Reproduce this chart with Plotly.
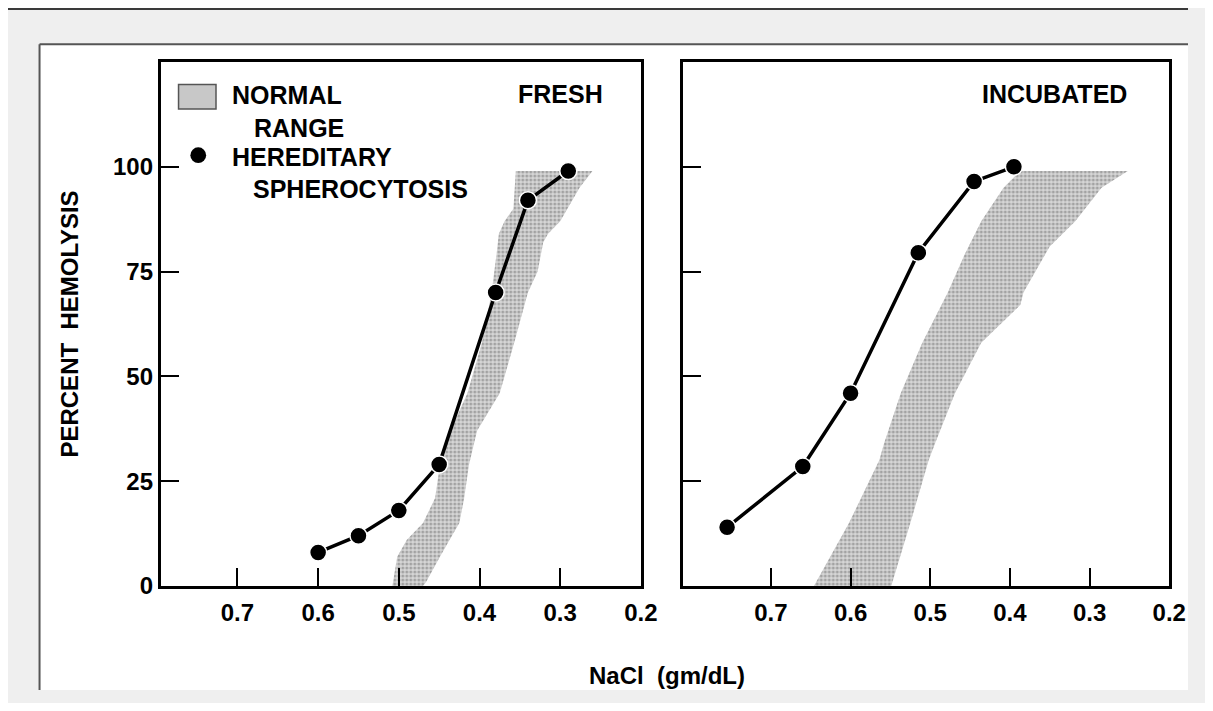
import plotly.graph_objects as go

# ---------------- data ----------------
fresh_nacl = [0.60, 0.55, 0.50, 0.45, 0.38, 0.34, 0.29]
fresh_hemolysis = [8, 12, 18, 29, 70, 92, 99]

incub_nacl = [0.755, 0.66, 0.60, 0.515, 0.445, 0.395]
incub_hemolysis = [14, 28.5, 46, 79.5, 96.5, 100]

# normal range band, fresh: high-salt edge (bottom -> top), low-salt edge (top -> bottom)
fresh_band_hi_pct = [0, 7, 11, 15, 21, 29, 37, 46, 58, 70, 79, 84, 87, 90, 99]
fresh_band_hi_nacl = [0.508, 0.502, 0.490, 0.470, 0.455, 0.449, 0.436, 0.415, 0.397, 0.385,
                      0.379, 0.376, 0.369, 0.358, 0.355]
fresh_band_lo_pct = [99, 95, 91, 87, 84, 82, 75, 70, 58, 46, 37, 29, 21, 15, 11, 7, 1, 0]
fresh_band_lo_nacl = [0.260, 0.276, 0.288, 0.300, 0.315, 0.321, 0.328, 0.340, 0.357, 0.375,
                      0.403, 0.413, 0.419, 0.425, 0.437, 0.449, 0.466, 0.470]

# normal range band, incubated
incub_band_hi_pct = [0, 15, 30, 34, 46, 58, 70, 79, 87, 95, 99]
incub_band_hi_nacl = [0.646, 0.602, 0.564, 0.558, 0.537, 0.510, 0.478, 0.457, 0.436, 0.408, 0.387]
incub_band_lo_pct = [99, 95, 87, 81, 79, 70, 67, 58, 46, 34, 30, 15, 0]
incub_band_lo_nacl = [0.252, 0.285, 0.318, 0.350, 0.356, 0.383, 0.387, 0.436, 0.469, 0.494,
                      0.502, 0.525, 0.549]

x_tick_vals = [0.7, 0.6, 0.5, 0.4, 0.3, 0.2]
x_tick_text = ["0.7", "0.6", "0.5", "0.4", "0.3", "0.2"]
y_tick_vals = [0, 25, 50, 75, 100]
y_tick_text = ["0", "25", "50", "75", "100"]

# figure fits inside the page with the default 8px body margin
W, H = 1197, 695
OFF = 8
FONT = "Liberation Sans, Arial, Helvetica, sans-serif"


def px(x):
    return (x - OFF) / W


def py(y):
    return 1 - (y - OFF) / H


band_pattern = dict(shape=".", fgcolor="#6e6e6e", bgcolor="#d6d6d6", size=4, solidity=0.45)

fig = go.Figure()

# bands
fig.add_trace(go.Scatter(
    x=fresh_band_hi_nacl + fresh_band_lo_nacl,
    y=fresh_band_hi_pct + fresh_band_lo_pct,
    fill="toself", mode="none", fillcolor="#d6d6d6", fillpattern=band_pattern,
    name="NORMAL RANGE", showlegend=False, xaxis="x", yaxis="y", hoverinfo="skip"))
fig.add_trace(go.Scatter(
    x=incub_band_hi_nacl + incub_band_lo_nacl,
    y=incub_band_hi_pct + incub_band_lo_pct,
    fill="toself", mode="none", fillcolor="#d6d6d6", fillpattern=band_pattern,
    name="NORMAL RANGE", showlegend=False, xaxis="x2", yaxis="y2", hoverinfo="skip"))

# hereditary spherocytosis curves
line_style = dict(color="black", width=3.5)
marker_style = dict(size=17, color="black", line=dict(color="white", width=1.5))
fig.add_trace(go.Scatter(
    x=fresh_nacl, y=fresh_hemolysis, mode="lines+markers",
    line=line_style, marker=marker_style, name="HEREDITARY SPHEROCYTOSIS",
    showlegend=False, xaxis="x", yaxis="y"))
fig.add_trace(go.Scatter(
    x=incub_nacl, y=incub_hemolysis, mode="lines+markers",
    line=line_style, marker=marker_style, name="HEREDITARY SPHEROCYTOSIS",
    showlegend=False, xaxis="x2", yaxis="y2"))

tick_font = dict(family=FONT, size=24, color="black", weight="bold")
y_dom = [py(597), py(63)]

common_x = dict(
    tickvals=x_tick_vals, ticktext=x_tick_text, ticks="inside", ticklen=18, tickwidth=2,
    tickcolor="black", showline=True, mirror=True, linewidth=3, linecolor="black",
    showgrid=False, zeroline=False, tickfont=tick_font, fixedrange=True,
    ticklabelstandoff=3)
common_y = dict(
    range=[0, 125], tickvals=y_tick_vals, ticktext=y_tick_text, ticks="inside", ticklen=18,
    tickwidth=2, tickcolor="black", showline=True, mirror=True, linewidth=3,
    linecolor="black", showgrid=False, zeroline=False, tickfont=tick_font, domain=y_dom,
    fixedrange=True)

fig.update_layout(
    width=W, height=H, margin=dict(l=0, r=0, t=0, b=0),
    paper_bgcolor="#efefef", plot_bgcolor="white", showlegend=False,
    xaxis=dict(common_x, domain=[px(163), px(650)], range=[0.795, 0.2], anchor="y"),
    yaxis=dict(common_y, anchor="x",
               title=dict(text="PERCENT  HEMOLYSIS", standoff=28,
                          font=dict(family=FONT, size=24, color="black", weight="bold"))),
    xaxis2=dict(common_x, domain=[px(693), px(1186)], range=[0.81, 0.2], anchor="y2"),
    yaxis2=dict(common_y, anchor="x2", showticklabels=False),
)

# page decorations (viewer frame), kept inside the paper
shapes = [
    dict(type="line", xref="paper", yref="paper", x0=0, x1=1, y0=py(9), y1=py(9),
         line=dict(color="#3a3a3a", width=2), layer="below"),
    dict(type="rect", xref="paper", yref="paper", x0=px(40), x1=1, y0=0, y1=py(45),
         fillcolor="white", line=dict(width=0), layer="below"),
    dict(type="line", xref="paper", yref="paper", x0=px(40), x1=1, y0=py(45), y1=py(45),
         line=dict(color="#555555", width=2), layer="below"),
    dict(type="line", xref="paper", yref="paper", x0=px(40), x1=px(40), y0=0, y1=py(45),
         line=dict(color="#555555", width=2), layer="below"),
    # legend swatch and dot
    dict(type="rect", xref="paper", yref="paper", x0=px(181), x1=px(219), y0=py(111), y1=py(86),
         fillcolor="#c8c8c8", line=dict(color="#555555", width=1.5)),
    dict(type="circle", xref="paper", yref="paper", x0=px(193), x1=px(209), y0=py(166), y1=py(150),
         fillcolor="black", line=dict(color="black", width=0)),
]
fig.update_layout(shapes=shapes)

lab_font = dict(family=FONT, size=25, color="black", weight="bold")
ann = [
    dict(text="NORMAL", x=px(233), y=py(97), xanchor="left", yanchor="middle"),
    dict(text="RANGE", x=px(256), y=py(130), xanchor="left", yanchor="middle"),
    dict(text="HEREDITARY", x=px(233), y=py(160), xanchor="left", yanchor="middle"),
    dict(text="SPHEROCYTOSIS", x=px(255), y=py(192), xanchor="left", yanchor="middle"),
    dict(text="FRESH", x=px(614), y=py(96), xanchor="right", yanchor="middle"),
    dict(text="INCUBATED", x=px(1145), y=py(96), xanchor="right", yanchor="middle"),
]
for a in ann:
    fig.add_annotation(xref="paper", yref="paper", showarrow=False, font=lab_font, **a)

fig.add_annotation(text="NaCl  (gm/dL)", xref="paper", yref="paper", x=px(677), y=py(688),
                   xanchor="center", yanchor="middle", showarrow=False,
                   font=dict(family=FONT, size=24, color="black", weight="bold"))

fig.write_html("out.html", config={"displayModeBar": False})
